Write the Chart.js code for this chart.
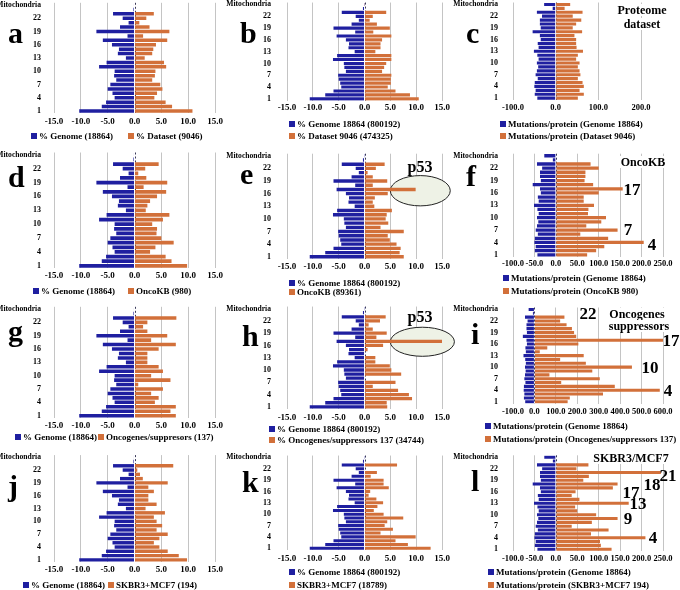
<!DOCTYPE html>
<html>
<head>
<meta charset="utf-8">
<script src="https://cdn.jsdelivr.net/npm/chart.js@4.4.1/dist/chart.umd.min.js"></script>
<style>
  body { margin: 0; background: #fff; }
  #fig { position: relative; width: 680px; height: 590px; overflow: hidden; background: #fff; }
  #fig canvas { position: absolute; }
  .t { position: absolute; white-space: nowrap; font-family: "Liberation Serif", "Times New Roman", serif; font-weight: bold; color: #000; z-index: 5; }
  .sq { position: absolute; width: 6px; height: 6px; z-index: 5; }
</style>
</head>
<body>
<div id="fig"></div>
<script>
// chromosomes, bottom to top
const categories = ['1','2','3','4','5','6','7','8','9','10','11','12','13','14','15','16','17','18','19','20','21','22','X','Y','Mitochondria'];

// % of genes per chromosome (genome 18864)
const genomePct = [-10.3,-6.1,-5.3,-3.7,-4.1,-5.0,-4.5,-3.4,-3.8,-3.7,-6.6,-5.2,-1.6,-3.1,-2.9,-4.2,-5.9,-1.3,-7.1,-2.7,-1.1,-2.2,-4.0,-0.2,-0.1];
// % of mutations per chromosome (genome 18864, 800192)
const genomeMutPct = [-10.6,-7.6,-6.0,-4.5,-4.7,-5.0,-5.1,-3.6,-3.9,-4.0,-6.1,-5.3,-1.9,-3.1,-3.0,-3.6,-5.4,-1.8,-6.0,-2.5,-1.1,-1.7,-4.4,-0.3,-0.05];
// mutations per protein (genome 18864)
const genomeMutProt = [-43,-49,-47,-50,-49,-42,-47,-44,-41,-44,-40,-43,-51,-40,-42,-35,-37,-54,-35,-37,-37,-32,-44,-7,-27];

const datasetPct = [10.8,7.0,5.8,3.7,4.2,5.2,4.8,3.3,3.8,3.9,5.9,5.5,1.9,3.3,3.5,4.0,6.1,1.6,6.5,2.8,0.9,2.2,3.6,0.1,0.1];
const datasetMutPct = [10.5,8.8,6.0,4.5,5.1,5.1,5.2,3.4,3.8,4.2,5.2,5.2,2.1,3.1,3.1,3.4,5.2,1.7,4.9,2.4,1.0,1.6,4.2,0.1,0.05];
const datasetMutProt = [52,66,56,66,63,52,58,56,52,56,48,52,64,49,48,48,44,62,40,48,60,40,63,21,34];

const oncoKbPct = [9.8,6.9,5.8,2.9,3.9,7.3,5.0,4.1,4.2,3.3,5.3,6.5,2.1,2.4,2.9,4.2,5.9,1.7,6.1,2.2,0.7,2.0,4.5,null,null];
const oncoKbMutPct = [7.6,6.8,7.0,6.2,4.9,4.5,7.6,3.1,4.6,4.1,4.3,5.3,1.9,1.6,2.0,4.5,9.9,1.6,4.4,1.6,0.6,2.2,3.9,null,null];
const oncoKbMutProt = [73,94,113,205,122,57,144,71,106,117,75,76,89,65,65,100,156,87,67,69,69,100,81,null,null];

const oncoPct = [7.7,6.7,7.7,3.8,4.5,3.1,5.3,0.7,6.7,3.1,5.3,4.5,2.4,2.4,2.4,4.5,7.7,3.1,6.1,2.4,1.6,2.4,7.8,null,null];
const oncoMutPct = [4.4,4.3,9.2,8.6,6.5,1.6,6.0,0.1,7.1,5.2,4.9,2.1,2.1,0.1,0.6,3.6,15.2,2.3,4.3,1.6,0.8,3.0,4.1,null,null];
const oncoMutProt = [155,165,320,585,375,125,305,70,270,455,240,120,230,25,60,205,600,195,185,175,150,120,140,null,null];

const skbrPct = [9.79,8.25,6.19,4.64,3.61,4.64,6.19,4.12,5.15,4.12,3.61,5.67,2.06,4.12,2.58,2.58,3.61,2.58,6.19,1.55,1.03,0.52,7.22,null,null];
const skbrMutPct = [12.8,8.4,6.0,9.9,3.1,5.5,3.9,4.4,7.5,3.7,1.8,2.5,3.6,2.3,0.8,1.1,4.7,3.7,3.7,1.2,2.4,0.1,6.3,null,null];
const skbrMutProt = [130,105,103,209,82,123,37,84,144,94,50,45,170,55,37,46,133,144,64,77,245,48,76,null,null];

const BLUE = '#1f1fa0';
const ORANGE = '#d2703a';
const SERIF = '"Liberation Serif", "Times New Roman", serif';

const pctAxis = { min: -15, max: 15, step: 5 };

const panels = [
  { letter: 'a', lx: 8, lb: 43, blue: genomePct, orange: datasetPct, names: ['% Genome (18864)', '% Dataset (9046)'],
    L: 54, R: 215, T: 2.8, B: 113.2, axis: pctAxis, tickY: 122, yPad: 5, fs: 9, legend: [[31, 136], [128, 136]] },
  { letter: 'b', lx: 240, lb: 43, blue: genomeMutPct, orange: datasetMutPct, names: ['% Genome 18864 (800192)', '% Dataset 9046 (474325)'],
    L: 287, R: 442, T: 2.5, B: 100.8, axis: pctAxis, tickY: 108, yPad: 8, fs: 9, legend: [[289, 124], [289, 136]] },
  { letter: 'c', lx: 466, lb: 43, blue: genomeMutProt, orange: datasetMutProt, names: ['Mutations/protein (Genome 18864)', 'Mutations/protein (Dataset 9046)'],
    L: 513, R: 641, T: 2.5, B: 100.1, axis: { min: -100, max: 200, step: 100 }, tickY: 108, yPad: 7, fs: 8.5, legend: [[500, 124], [500, 136]] },
  { letter: 'd', lx: 8, lb: 187, blue: genomePct, orange: oncoKbPct, names: ['% Genome (18864)', 'OncoKB (980)'],
    L: 54, R: 215, T: 152.5, B: 268.1, axis: pctAxis, tickY: 275.3, yPad: 5, fs: 9, legend: [[33, 291], [128, 291]] },
  { letter: 'e', lx: 240, lb: 184, blue: genomeMutPct, orange: oncoKbMutPct, names: ['% Genome 18864 (800192)', 'OncoKB (89361)'],
    L: 287, R: 442, T: 153.7, B: 258.9, axis: pctAxis, tickY: 267, yPad: 8, fs: 9, legend: [[289, 283], [289, 292]],
    ellipse: { x: 10.8, y: 15.7, rx: 5.8, ry: 3.6 } },
  { letter: 'f', lx: 466, lb: 186, blue: genomeMutProt, orange: oncoKbMutProt, names: ['Mutations/protein (Genome 18864)', 'Mutations/protein (OncoKB 980)'],
    L: 513, R: 663, T: 153.7, B: 256.9, axis: { min: -100, max: 250, step: 50 }, tickY: 264, yPad: 7, fs: 8.5, legend: [[503, 278], [503, 291]] },
  { letter: 'g', lx: 8, lb: 341, blue: genomePct, orange: oncoPct, names: ['% Genome (18864)', 'Oncogenes/suppresors (137)'],
    L: 54, R: 215, T: 306.8, B: 417.9, axis: pctAxis, tickY: 425.7, yPad: 5, fs: 9, legend: [[15, 437], [98, 437]] },
  { letter: 'h', lx: 242, lb: 346, blue: genomeMutPct, orange: oncoMutPct, names: ['% Genome 18864 (800192)', '% Oncogenes/suppressors 137 (34744)'],
    L: 287, R: 442, T: 306.5, B: 408.9, axis: pctAxis, tickY: 418, yPad: 8, fs: 9, legend: [[269, 429], [269, 440]],
    ellipse: { x: 11.2, y: 15.9, rx: 6.2, ry: 3.55 } },
  { letter: 'i', lx: 471, lb: 344, blue: genomeMutProt, orange: oncoMutProt, names: ['Mutations/protein (Genome 18864)', 'Mutations/protein (Oncogenes/suppressors 137)'],
    L: 513, R: 663, T: 307.5, B: 403.7, axis: { min: -100, max: 600, step: 100 }, tickY: 411.3, yPad: 7, fs: 8.5, legend: [[485, 426], [485, 439]] },
  { letter: 'j', lx: 8, lb: 496, blue: genomePct, orange: skbrPct, names: ['% Genome (18864)', 'SKBR3+MCF7 (194)'],
    L: 54, R: 215, T: 455.1, B: 562, axis: pctAxis, tickY: 569.3, yPad: 5, fs: 9, legend: [[23, 585], [108, 585]] },
  { letter: 'k', lx: 242, lb: 492, blue: genomeMutPct, orange: skbrMutPct, names: ['% Genome 18864 (800192)', 'SKBR3+MCF7 (18789)'],
    L: 287, R: 442, T: 455.3, B: 550.1, axis: pctAxis, tickY: 558.7, yPad: 8, fs: 9, legend: [[289, 572], [289, 585]] },
  { letter: 'l', lx: 471, lb: 491, blue: genomeMutProt, orange: skbrMutProt, names: ['Mutations/protein (Genome 18864)', 'Mutations/protein (SKBR3+MCF7 194)'],
    L: 513, R: 663, T: 455.3, B: 551.1, axis: { min: -100, max: 250, step: 50 }, tickY: 559, yPad: 7, fs: 8.5, legend: [[488, 572], [488, 585]] }
];

// free text on the figure: [text, centre x, centre y, size, white box]
const notes = [
  ['Proteome', 642, 10, 12, true], ['dataset', 642, 24, 12, true],
  ['p53', 420, 167, 16, false],
  ['OncoKB', 643, 162, 12, true], ['17', 632, 189, 17, false], ['7', 628, 229, 17, false], ['4', 652, 244, 17, false],
  ['p53', 420, 317, 16, false],
  ['22', 588, 313, 17, false], ['Oncogenes', 637, 314, 12, true], ['suppressors', 639, 326, 12, true],
  ['17', 671, 340, 17, false], ['10', 650, 367, 17, false], ['4', 668, 390, 17, false],
  ['SKBR3/MCF7', 631, 458, 12, true], ['21', 668, 475, 17, false], ['18', 652, 484, 17, false],
  ['17', 631, 492, 17, false], ['13', 638, 503, 17, false], ['9', 628, 518, 17, false], ['4', 653, 537, 17, false]
];

const fig = document.getElementById('fig');

function addText(txt, x, cy, size, centred, box) {
  const el = document.createElement('div');
  el.className = 't';
  el.textContent = txt;
  el.style.fontSize = size + 'px';
  el.style.lineHeight = size + 'px';
  el.style.left = x + 'px';
  el.style.top = (cy - size / 2) + 'px';
  if (centred) el.style.transform = 'translateX(-50%)';
  if (box) { el.style.background = '#fff'; el.style.padding = '0 2px'; }
  fig.appendChild(el);
}

// dashed zero line under the bars
const zeroLine = {
  id: 'zeroLine',
  beforeDatasetsDraw(chart) {
    const { ctx, chartArea, scales } = chart;
    const x = Math.round(scales.x.getPixelForValue(0)) + 0.5;
    ctx.save();
    ctx.strokeStyle = '#3a3a5a';
    ctx.lineWidth = 1;
    ctx.setLineDash([2, 2]);
    ctx.beginPath();
    ctx.moveTo(x, chartArea.top);
    ctx.lineTo(x, chartArea.bottom);
    ctx.stroke();
    ctx.restore();
  }
};

// p53 highlight
const ellipse = {
  id: 'ellipse',
  beforeDatasetsDraw(chart, args, opts) {
    if (!opts || opts.x === undefined) return;
    const { ctx, scales } = chart;
    const cx = scales.x.getPixelForValue(opts.x);
    const cy = scales.y.getPixelForValue(opts.y);
    const rx = Math.abs(scales.x.getPixelForValue(opts.x + opts.rx) - cx);
    const ry = Math.abs(scales.y.getPixelForValue(opts.y + opts.ry) - cy);
    ctx.save();
    ctx.beginPath();
    ctx.ellipse(cx, cy, rx, ry, 0, 0, Math.PI * 2);
    ctx.fillStyle = '#eef2e6';
    ctx.fill();
    ctx.strokeStyle = '#222';
    ctx.lineWidth = 1;
    ctx.stroke();
    ctx.restore();
  }
};

panels.forEach(p => {
  const left = p.L - 62;
  const top = Math.floor(p.T) - 12;
  const bottom = Math.ceil(p.B) + 22;
  const width = p.R - p.L + 62 + 20;
  const height = bottom - top;
  const canvas = document.createElement('canvas');
  canvas.width = width;
  canvas.height = height;
  canvas.style.left = left + 'px';
  canvas.style.top = top + 'px';
  fig.appendChild(canvas);

  const xPad = p.tickY - p.B - 0.6 * p.fs;

  new Chart(canvas, {
    type: 'bar',
    data: {
      labels: categories,
      datasets: [
        { label: p.names[0], data: p.blue, backgroundColor: BLUE },
        { label: p.names[1], data: p.orange, backgroundColor: ORANGE }
      ]
    },
    options: {
      indexAxis: 'y',
      responsive: false,
      animation: false,
      layout: { padding: { top: p.T - top, right: 20, left: 0, bottom: 0 } },
      datasets: { bar: { barPercentage: 0.8, categoryPercentage: 1 } },
      plugins: {
        legend: { display: false },
        tooltip: { enabled: false },
        ellipse: p.ellipse || {}
      },
      scales: {
        x: {
          stacked: true,
          min: p.axis.min,
          max: p.axis.max,
          ticks: {
            stepSize: p.axis.step,
            autoSkip: false,
            maxRotation: 0,
            minRotation: 0,
            padding: xPad,
            color: '#000',
            font: { family: SERIF, weight: 'bold', size: p.fs },
            callback: v => v.toFixed(1)
          },
          grid: {
            drawTicks: false,
            lineWidth: 1,
            color: c => (c.tick && c.tick.value === 0) ? 'rgba(0,0,0,0)' : '#c4c4c4'
          },
          border: { display: false },
          afterFit: s => { s.height = bottom - p.B; }
        },
        y: {
          stacked: true,
          reverse: true,
          ticks: {
            autoSkip: false,
            padding: p.yPad,
            color: '#000',
            font: c => ({ family: SERIF, weight: 'bold', size: c.index === 24 ? 7.6 : 8 }),
            callback: (v, i) => (i % 3 === 0 ? categories[i] : '')
          },
          grid: { display: false },
          border: { display: false },
          afterFit: s => { s.width = 62; }
        }
      }
    },
    plugins: [zeroLine, ellipse]
  });

  // legend, built from the dataset names and colours
  [BLUE, ORANGE].forEach((col, k) => {
    const [sx, cy] = p.legend[k];
    const sq = document.createElement('div');
    sq.className = 'sq';
    sq.style.background = col;
    sq.style.left = sx + 'px';
    sq.style.top = (cy - 3) + 'px';
    fig.appendChild(sq);
    addText(p.names[k], sx + 8, cy, 9, false, false);
  });

  // panel letter (30px, placed by its baseline)
  addText(p.letter, p.lx, p.lb - 0.3375 * 30, 30, false, false);
});

notes.forEach(n => addText(n[0], n[1], n[2], n[3], true, n[4]));
</script>
</body>
</html>
